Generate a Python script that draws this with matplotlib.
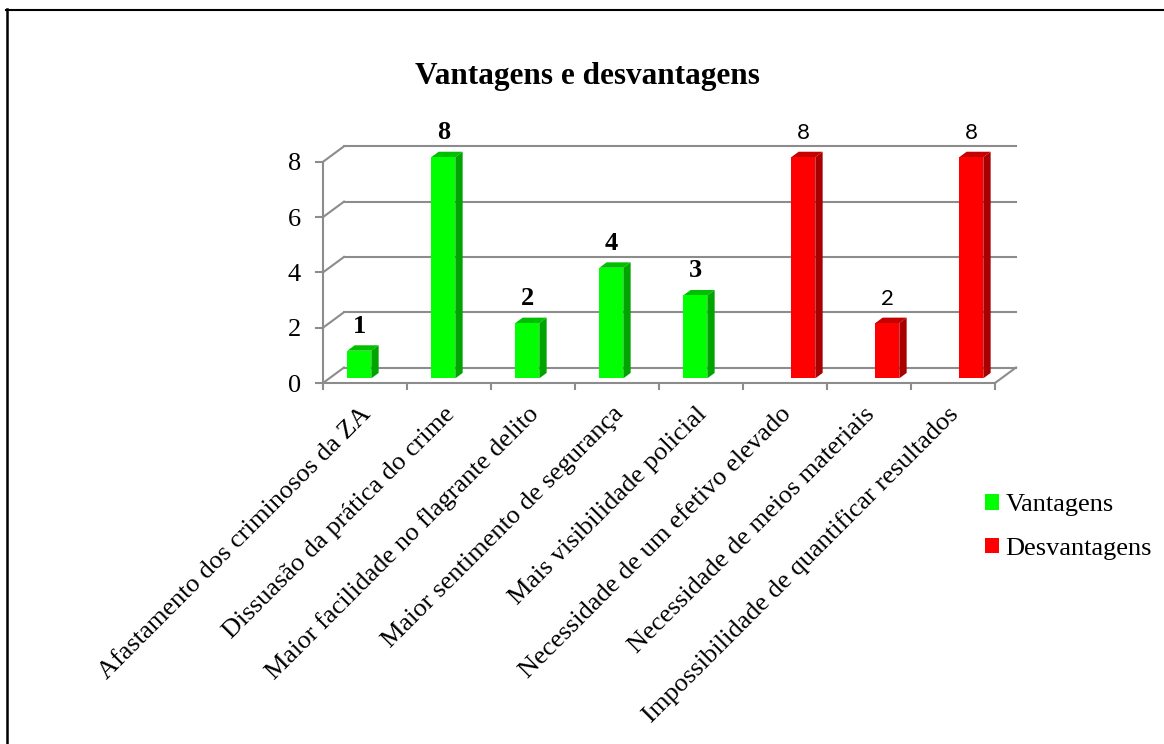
import matplotlib
matplotlib.use('Agg')
import matplotlib.pyplot as plt
from matplotlib.patches import Polygon, Patch
from matplotlib.lines import Line2D

# ---- data ----
categories = [
    'Afastamento dos criminosos da ZA',
    'Dissuasão da prática do crime',
    'Maior facilidade no flagrante delito',
    'Maior sentimento de segurança',
    'Mais visibilidade policial',
    'Necessidade de um efetivo elevado',
    'Necessidade de meios materiais',
    'Impossibilidade de quantificar resultados',
]
vantagens = [1, 8, 2, 4, 3, 0, 0, 0]
desvantagens = [0, 0, 0, 0, 0, 8, 2, 8]
series_names = ['Vantagens', 'Desvantagens']
y_ticks = [0, 2, 4, 6, 8]
title = 'Vantagens e desvantagens'

# ---- style ----
SERIF = ['Liberation Serif', 'DejaVu Serif']
SANS = ['Lato', 'DejaVu Sans']
front_cols = ['#00FF00', '#FF0000']
side_cols = ['#00A400', '#A80000']
top_cols = ['#00BE00', '#C40000']
grid_col = '#8c8c8c'

W, H = 1164, 744
fig = plt.figure(figsize=(W / 100, H / 100), dpi=100)
fig.patch.set_facecolor('white')

n = len(categories)
ymax = max(y_ticks)
DX, DY = 0.25, 0.56          # depth offset (category units, value units)
PX_X, PX_Y = 84.0, 27.65     # px per unit
ax = fig.add_axes([323 / W, (H - 383) / H, (n + DX) * PX_X / W, (ymax + DY) * PX_Y / H])
ax.set_xlim(0, n + DX)
ax.set_ylim(0, ymax + DY)
ax.axis('off')

lw = 1.5
# back wall gridlines & left wall
for v in y_ticks:
    ax.plot([DX, n + DX], [v + DY, v + DY], color=grid_col, lw=lw, clip_on=False, zorder=1)
    ax.plot([0, DX], [v, v + DY], color=grid_col, lw=lw, clip_on=False, zorder=1)
    ax.plot([-7 / PX_X, 0], [v, v], color=grid_col, lw=lw, clip_on=False, zorder=1)
    ax.text(-22 / PX_X, v, str(v), ha='right', va='center_baseline', fontsize=19,
            family=SERIF, clip_on=False)
# front vertical axis
ax.plot([0, 0], [0, ymax], color=grid_col, lw=lw, clip_on=False, zorder=1)
# floor front edge + right edge
ax.plot([0, n], [0, 0], color=grid_col, lw=lw, clip_on=False, zorder=1)
ax.plot([n, n + DX], [0, DY], color=grid_col, lw=lw, clip_on=False, zorder=1)
for i in range(n + 1):
    ax.plot([i, i], [0, -6 / PX_Y], color=grid_col, lw=lw, clip_on=False, zorder=1)

# bars
bw = 0.2857
f0 = 0.3
bd = 0.35
for s, vals in enumerate([vantagens, desvantagens]):
    for i, v in enumerate(vals):
        if v <= 0:
            continue
        left = i + 0.5 + (s - 1) * bw + f0 * DX
        bottom = f0 * DY
        top = v + bottom
        dxd, dyd = bd * DX, bd * DY
        side = [(left + bw, bottom), (left + bw + dxd, bottom + dyd),
                (left + bw + dxd, top + dyd), (left + bw, top)]
        topf = [(left, top), (left + bw, top), (left + bw + dxd, top + dyd), (left + dxd, top + dyd)]
        ax.add_patch(Polygon(side, closed=True, facecolor=side_cols[s], edgecolor='none',
                             zorder=3, clip_on=False))
        ax.add_patch(Polygon(topf, closed=True, facecolor=top_cols[s], edgecolor='none',
                             zorder=3, clip_on=False))
        ax.bar(left, v, width=bw, bottom=bottom, align='edge', color=front_cols[s],
               edgecolor='none', zorder=4, clip_on=False)
        if s == 0:
            ax.text(left + bw / 2, top + 0.65, str(v), ha='center', va='baseline',
                    fontsize=19, fontweight='bold', family=SERIF, clip_on=False)
        else:
            ax.text(left + bw / 2, top + 0.65, str(v), ha='center', va='baseline',
                    fontsize=16, family=SANS, clip_on=False)

# category labels
for i, c in enumerate(categories):
    ax.text(i + 0.5 + 7 / PX_X, -32 / PX_Y, c, rotation=45, rotation_mode='anchor',
            ha='right', va='baseline', fontsize=19, family=SERIF, clip_on=False)

# title
fig.text(587 / W, 1 - 84 / H, title, ha='center', va='baseline', fontsize=22.5,
         fontweight='bold', family=SERIF)

# legend
handles = [Patch(facecolor=front_cols[0], edgecolor='none'),
           Patch(facecolor=front_cols[1], edgecolor='none')]
fig.legend(handles, series_names, loc='upper left', bbox_to_anchor=(985 / W, 1 - 494 / H),
           frameon=False, prop={'family': SERIF, 'size': 19}, handlelength=0.53,
           handleheight=0.53, handletextpad=0.25, labelspacing=0.81, borderpad=0,
           borderaxespad=0)

# outer frame (left and top)
fig.add_artist(Line2D([7 / W, 7 / W], [0, 1 - 9 / H], color='black', lw=1.8,
                      transform=fig.transFigure))
fig.add_artist(Line2D([6 / W, 1], [1 - 9.5 / H, 1 - 9.5 / H], color='black', lw=1.5,
                      transform=fig.transFigure))

fig.savefig('out.png', dpi=100, facecolor='white')
